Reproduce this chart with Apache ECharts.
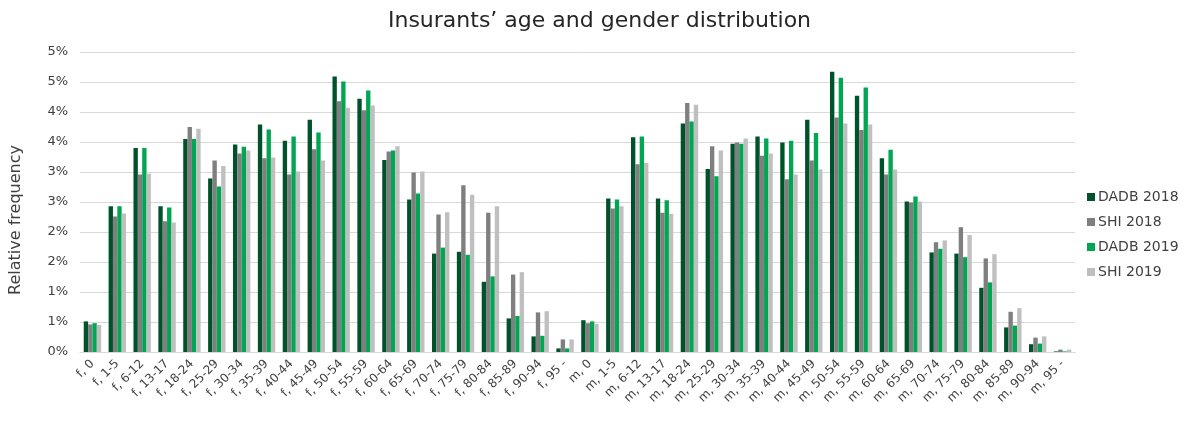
<!DOCTYPE html>
<html>
<head>
<meta charset="utf-8">
<script src="https://cdn.jsdelivr.net/npm/echarts@6/dist/echarts.min.js"></script>
<style>
  html, body { margin: 0; padding: 0; background: #fff; }
  #chart { width: 1199px; height: 424px; }
</style>
</head>
<body>
<div id="chart"></div>
<script>
// age groups, female then male
var categories = ['f, 0', 'f, 1-5', 'f, 6-12', 'f, 13-17', 'f, 18-24', 'f, 25-29', 'f, 30-34', 'f, 35-39',
  'f, 40-44', 'f, 45-49', 'f, 50-54', 'f, 55-59', 'f, 60-64', 'f, 65-69', 'f, 70-74', 'f, 75-79',
  'f, 80-84', 'f, 85-89', 'f, 90-94', 'f, 95 -',
  'm, 0', 'm, 1-5', 'm, 6-12', 'm, 13-17', 'm, 18-24', 'm, 25-29', 'm, 30-34', 'm, 35-39',
  'm, 40-44', 'm, 45-49', 'm, 50-54', 'm, 55-59', 'm, 60-64', 'm, 65-69', 'm, 70-74', 'm, 75-79',
  'm, 80-84', 'm, 85-89', 'm, 90-94', 'm, 95 -'];

// relative frequency in %
var dadb2018 = [0.51, 2.43, 3.40, 2.43, 3.55, 2.89, 3.46, 3.79, 3.52, 3.87, 4.59, 4.22, 3.20, 2.54,
  1.64, 1.67, 1.17, 0.56, 0.26, 0.06,
  0.53, 2.56, 3.58, 2.56, 3.81, 3.05, 3.47, 3.59, 3.49, 3.87, 4.67, 4.27, 3.23, 2.51,
  1.66, 1.64, 1.07, 0.41, 0.13, 0.01];
var shi2018 = [0.46, 2.26, 2.96, 2.18, 3.75, 3.19, 3.31, 3.23, 2.96, 3.38, 4.18, 4.03, 3.34, 2.99,
  2.29, 2.78, 2.32, 1.29, 0.66, 0.21,
  0.48, 2.39, 3.13, 2.32, 4.15, 3.43, 3.49, 3.27, 2.88, 3.19, 3.91, 3.70, 2.96, 2.49,
  1.83, 2.08, 1.56, 0.67, 0.24, 0.04];
var dadb2019 = [0.48, 2.43, 3.40, 2.41, 3.55, 2.76, 3.42, 3.71, 3.59, 3.66, 4.51, 4.36, 3.36, 2.64,
  1.74, 1.62, 1.26, 0.60, 0.27, 0.06,
  0.51, 2.54, 3.59, 2.53, 3.84, 2.93, 3.47, 3.56, 3.52, 3.65, 4.57, 4.41, 3.37, 2.59,
  1.72, 1.58, 1.16, 0.44, 0.14, 0.01];
var shi2019 = [0.45, 2.31, 2.97, 2.16, 3.72, 3.10, 3.36, 3.24, 3.01, 3.19, 4.07, 4.11, 3.43, 3.01,
  2.33, 2.62, 2.43, 1.33, 0.68, 0.21,
  0.47, 2.43, 3.15, 2.30, 4.12, 3.36, 3.56, 3.31, 2.96, 3.04, 3.81, 3.79, 3.04, 2.51,
  1.86, 1.95, 1.63, 0.73, 0.26, 0.04];

// y ticks every 0.5 %, labels rounded like the original
var tickLabels = ['0%', '1%', '1%', '2%', '2%', '3%', '3%', '4%', '4%', '5%', '5%'];

var seriesNames = ['DADB 2018', 'SHI 2018', 'DADB 2019', 'SHI 2019'];
var seriesData = [dadb2018, shi2018, dadb2019, shi2019];
var colors = ['#00522b', '#7f7f7f', '#00a651', '#bfbfbf'];

var font = '"DejaVu Sans", sans-serif';
var chart = echarts.init(document.getElementById('chart'), null, { renderer: 'canvas' });

var option = {
  animation: false,
  color: colors,
  title: {
    text: 'Insurants\u2019 age and gender distribution',
    left: 'center',
    top: 5,
    textStyle: { fontFamily: font, fontSize: 22, fontWeight: 'normal', color: '#262626' }
  },
  legend: {
    orient: 'vertical',
    left: 1082,
    top: 185,
    itemWidth: 8,
    itemHeight: 8,
    itemGap: 11,
    icon: 'rect',
    data: seriesNames,
    textStyle: { fontFamily: font, fontSize: 14, color: '#404040', padding: [0, 0, 0, -2] }
  },
  grid: { left: 79, right: 124, top: 52, bottom: 72 },
  xAxis: {
    type: 'category',
    data: categories,
    axisTick: { show: false },
    axisLine: { lineStyle: { color: '#d9d9d9', width: 1 } },
    axisLabel: {
      interval: 0,
      rotate: 45,
      margin: 10,
      fontFamily: font,
      fontSize: 12,
      color: '#404040'
    }
  },
  yAxis: {
    type: 'value',
    min: 0,
    max: 5,
    interval: 0.5,
    name: 'Relative frequency',
    nameLocation: 'middle',
    nameGap: 56,
    nameTextStyle: { fontFamily: font, fontSize: 16, color: '#404040', padding: [0, 36, 0, 0] },
    axisLine: { show: false },
    axisTick: { show: false },
    splitLine: { lineStyle: { color: '#d9d9d9', width: 1 } },
    axisLabel: {
      fontFamily: font,
      fontSize: 13,
      color: '#404040',
      margin: 12,
      formatter: function (v) {
        return tickLabels[Math.round(v / 0.5)];
      }
    }
  },
  series: seriesNames.map(function (name, i) {
    return {
      name: name,
      type: 'bar',
      data: seriesData[i],
      barGap: '0%',
      barCategoryGap: '30%'
    };
  })
};

chart.setOption(option);
</script>
</body>
</html>
